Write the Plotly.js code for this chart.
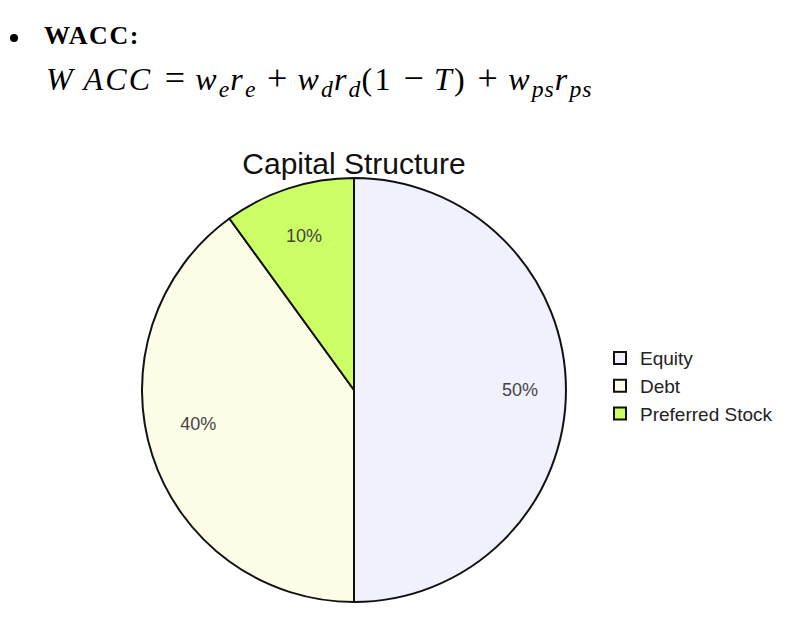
<!DOCTYPE html>
<html>
<head>
<meta charset="utf-8">
<script src="https://cdn.plot.ly/plotly-3.0.1.min.js"></script>
<style>
  body { margin: 0; background: #fff; width: 792px; height: 619px; overflow: hidden; }
  #head { position: absolute; left: 0; top: 0; z-index: 2; font-family: "Liberation Serif", "Times New Roman", serif; color: #000; }
  #bullet { position: absolute; left: 10px; top: 34px; width: 8px; height: 8px; border-radius: 50%; background: #000; }
  #name { position: absolute; left: 44px; top: 21px; font-size: 26px; font-weight: bold; letter-spacing: 1.6px; }
  #formula { position: absolute; left: 46px; top: 60px; font-size: 32px; white-space: nowrap; font-style: italic; letter-spacing: 2.2px; }
  #formula .op { display: inline-block; width: 25px; text-align: center; font-style: normal; font-size: 36px; line-height: 1; margin: 0 8px; letter-spacing: 0; }
  #formula .eq { margin-left: 10px; }
  #formula .n { font-style: normal; letter-spacing: 2.5px; }
  #formula sub { font-size: 0.74em; vertical-align: -0.3em; line-height: 0; letter-spacing: 1px; }
  #graphDiv { position: absolute; left: 0; top: 0; width: 792px; height: 619px; }
</style>
</head>
<body>
<div id="head">
  <div id="bullet"></div>
  <div id="name">WACC:</div>
  <div id="formula">W&thinsp;ACC<span class="op eq">=</span>w<sub>e</sub>r<sub>e</sub><span class="op">+</span>w<sub>d</sub>r<sub>d</sub><span class="n">(1</span><span class="op">&minus;</span>T<span class="n">)</span><span class="op">+</span>w<sub>ps</sub>r<sub>ps</sub></div>
</div>
<div id="graphDiv"></div>
<script>
var labels = ['Equity', 'Debt', 'Preferred Stock'];
var weights = [50, 40, 10];
var sliceColors = ['#f1f1fd', '#fefee8', '#ccff66'];
// nbsp padding nudges the inside labels out toward the rim
var labelFormats = [
  '\u00a0'.repeat(24) + '%{percent}',
  '%{percent}' + '\u00a0'.repeat(21),
  '%{percent}'
];

function initGraph()
{
  var trace1 = {
    type: 'pie',
    labels: labels,
    values: weights,
    sort: false,
    direction: 'clockwise',
    rotation: 0,
    texttemplate: labelFormats,
    textposition: 'inside',
    insidetextorientation: 'horizontal',
    textfont: {family: 'Liberation Sans, Arial, sans-serif', size: 18, color: '#444'},
    marker: {colors: sliceColors, line: {color: '#111', width: 2}},
    domain: {x: [0.1793, 0.7146], y: [0.0275, 0.7124]},
    hoverinfo: 'none'
  };

  var data = [trace1];

  var layout = {
    width: 792,
    height: 619,
    margin: {l: 0, r: 0, t: 0, b: 0},
    paper_bgcolor: 'rgba(0,0,0,0)',
    title: {
      text: 'Capital Structure',
      font: {family: 'Liberation Sans, Arial, sans-serif', size: 30, color: '#111'},
      x: 354 / 792,
      xanchor: 'center',
      xref: 'container',
      y: 1 - 163 / 619,
      yanchor: 'middle',
      yref: 'container'
    },
    showlegend: true,
    legend: {
      x: 0.7576,
      y: 0.452,
      xanchor: 'left',
      yanchor: 'top',
      font: {family: 'Liberation Sans, Arial, sans-serif', size: 19, color: '#222'}
    }
  };

  Plotly.newPlot('graphDiv', data, layout, {displayModeBar: false, staticPlot: true});
}
initGraph();
</script>
</body>
</html>
